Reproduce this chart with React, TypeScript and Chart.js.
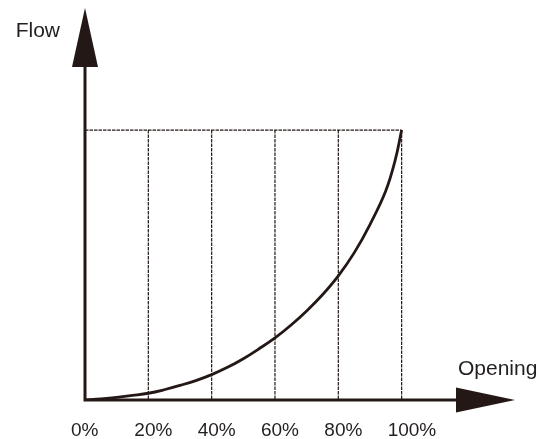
import React, { useEffect, useRef } from "react";
import { Chart, registerables } from "chart.js";

Chart.register(...registerables);

const openingPct = [0, 5, 10, 15, 20, 25, 30, 35, 40, 45, 50, 55, 60, 65, 70, 75, 80, 85, 90, 95, 98, 100];
const flowPct = [0, 0.4, 1, 1.7, 2.5, 3.8, 5.4, 7.2, 9.4, 12.1, 15.3, 19, 23, 27.7, 33, 39, 46, 54.5, 65, 77.5, 89, 100];
const tickValues = [0, 20, 40, 60, 80, 100];
const tickLabels = ["0%", "20%", "40%", "60%", "80%", "100%"];
const gridValues = [20, 40, 60, 80, 100];
const fullFlow = 100;
const xAxisTitle = "Opening";
const yAxisTitle = "Flow";
const xScaleMax = 135.8;
const yScaleMax = 145.2;

const INK = "#231815";
const FONT = "'Liberation Sans', Arial, sans-serif";

const decorPlugin = {
  id: "decor",
  beforeDatasetsDraw(chart: any) {
    const { ctx, scales } = chart;
    const xs = scales.x;
    const ys = scales.y;
    const x0 = xs.getPixelForValue(0);
    const y0 = ys.getPixelForValue(0);
    const yTop = ys.getPixelForValue(fullFlow);
    const xEnd = xs.getPixelForValue(100);
    ctx.save();
    ctx.strokeStyle = INK;
    ctx.lineWidth = 1.2;
    ctx.setLineDash([3.5, 1]);
    ctx.beginPath();
    ctx.moveTo(x0, yTop);
    ctx.lineTo(xEnd, yTop);
    for (const v of gridValues) {
      const x = xs.getPixelForValue(v);
      ctx.moveTo(x, yTop);
      ctx.lineTo(x, y0);
    }
    ctx.stroke();
    ctx.restore();
  },
  afterDraw(chart: any) {
    const { ctx, scales, chartArea } = chart;
    const xs = scales.x;
    const ys = scales.y;
    const x0 = xs.getPixelForValue(0);
    const y0 = ys.getPixelForValue(0);
    const xTip = chartArea.right;
    const yTip = chartArea.top;
    ctx.save();
    ctx.strokeStyle = INK;
    ctx.fillStyle = INK;
    ctx.lineWidth = 3;
    ctx.setLineDash([]);
    ctx.beginPath();
    ctx.moveTo(x0, y0 + 1.5);
    ctx.lineTo(x0, yTip + 55);
    ctx.moveTo(x0 - 1.5, y0);
    ctx.lineTo(xTip - 55, y0);
    ctx.stroke();
    ctx.beginPath();
    ctx.moveTo(x0, yTip);
    ctx.lineTo(x0 - 13, yTip + 59);
    ctx.lineTo(x0 + 13, yTip + 59);
    ctx.closePath();
    ctx.fill();
    ctx.beginPath();
    ctx.moveTo(xTip, y0);
    ctx.lineTo(xTip - 59, y0 - 12.5);
    ctx.lineTo(xTip - 59, y0 + 12.5);
    ctx.closePath();
    ctx.fill();
    ctx.fillStyle = "#231f20";
    ctx.font = `19px ${FONT}`;
    ctx.textAlign = "left";
    ctx.textBaseline = "alphabetic";
    tickValues.forEach((v, i) => {
      ctx.fillText(tickLabels[i], xs.getPixelForValue(v) - 14, y0 + 36);
    });
    ctx.font = `21px ${FONT}`;
    ctx.textAlign = "right";
    ctx.fillText(yAxisTitle, x0 - 25, yTip + 29);
    ctx.textAlign = "left";
    ctx.fillText(xAxisTitle, xTip - 57, y0 - 25);
    ctx.restore();
  },
};

export default function App() {
  const ref = useRef<HTMLCanvasElement | null>(null);
  useEffect(() => {
    document.body.style.margin = "0";
    if (!ref.current) return;
    const chart = new Chart(ref.current, {
      type: "scatter",
      data: {
        datasets: [
          {
            data: openingPct.map((x, i) => ({ x, y: flowPct[i] })),
            showLine: true,
            borderColor: INK,
            borderWidth: 2.8,
            pointRadius: 0,
            tension: 0.4,
            fill: false,
          } as any,
        ],
      },
      options: {
        animation: false,
        responsive: false,
        maintainAspectRatio: false,
        devicePixelRatio: 1,
        layout: { padding: { left: 85, right: 33, top: 8, bottom: 39 } },
        plugins: { legend: { display: false }, tooltip: { enabled: false } },
        scales: {
          x: { type: "linear", min: 0, max: xScaleMax, display: false },
          y: { type: "linear", min: 0, max: yScaleMax, display: false },
        },
      },
      plugins: [decorPlugin],
    });
    return () => chart.destroy();
  }, []);
  return (
    <div style={{ width: 548, height: 439, background: "#fff" }}>
      <canvas ref={ref} width={548} height={439} style={{ display: "block" }} />
    </div>
  );
}
